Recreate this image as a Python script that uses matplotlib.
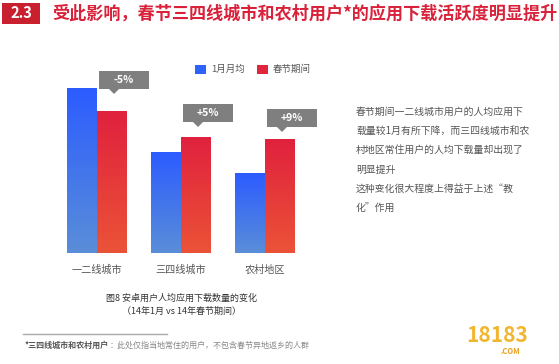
import numpy as np
import matplotlib
matplotlib.use("Agg")
import matplotlib.pyplot as plt
from matplotlib.patches import Rectangle, Polygon
from matplotlib.colors import LinearSegmentedColormap

plt.rcParams['font.family'] = ['Noto Sans CJK SC', 'DejaVu Sans']

# data
categories = ['一二线城市', '三四线城市', '农村地区']
series_names = ['1月月均', '春节期间']
jan_avg = [165, 101, 80]
spring = [142, 116, 114]
changes = ['-5%', '+5%', '+9%']

title_num = '2.3'
title = '受此影响，春节三四线城市和农村用户*的应用下载活跃度明显提升'
caption = ['图8 安卓用户人均应用下载数量的变化', '（14年1月 vs 14年春节期间）']
side_text = [['春节期间一二线城市用户的人均应用下', '载量较1月有所下降，而三四线城市和农',
              '村地区常住用户的人均下载量却出现了', '明显提升'],
             ['这种变化很大程度上得益于上述“教', '化”作用']]
footnote_bold = '*三四线城市和农村用户'
footnote_rest = '：此处仅指当地常住的用户，不包含春节异地返乡的人群'

W, H = 559, 364
fig = plt.figure(figsize=(W / 100, H / 100), dpi=100)
fig.patch.set_facecolor('white')

def fx(px):
    return px / W

def fy(py):
    return 1 - py / H

# title bar
fig.patches.append(Rectangle((fx(2), fy(24)), fx(38), 21 / H, transform=fig.transFigure,
                             facecolor='#C8202F', edgecolor='none'))
fig.text(fx(21), fy(13.5), title_num, color='white', fontsize=10.5, fontweight='bold',
         ha='center', va='center')
tt = fig.text(fx(52), fy(13.5), title, color='#D9213A', fontsize=13, fontweight='bold',
              ha='left', va='center')
# shrink title to fit the width it has in the reference (52px .. 555px)
fig.canvas.draw()
w = tt.get_window_extent().width
tt.set_fontsize(13 * 503 / w)

# bar chart axes: baseline at y=253px, groups every 84px
ax = fig.add_axes([fx(40), fy(253), fx(280), (253 - 50) / H])
ax.axis('off')

x = np.arange(len(categories))
bw = 30 / 84
blue_cmap = LinearSegmentedColormap.from_list('b', ['#5A8ED8', '#2C5CFF'])
red_cmap = LinearSegmentedColormap.from_list('r', ['#EB5337', '#E0213E'])
grad = np.linspace(0, 1, 256).reshape(-1, 1)

def gradient_bars(xs, vals, cmap):
    bars = ax.bar(xs, vals, width=bw, color='none', edgecolor='none')
    for b in bars:
        x0, y0 = b.get_x(), b.get_y()
        im = ax.imshow(grad, cmap=cmap, origin='lower', aspect='auto',
                       extent=[x0, x0 + b.get_width(), y0, y0 + b.get_height()], zorder=2)
        im.set_clip_path(b)
    return bars

gradient_bars(x - bw / 2, jan_avg, blue_cmap)
gradient_bars(x + bw / 2, spring, red_cmap)
ax.set_xlim(-0.679, 2.655)
ax.set_ylim(0, 203)

# callouts
gaps = [22, 15, 12]
box_w = 50 / 84
box_h = 18
for i, (v, lab) in enumerate(zip(spring, changes)):
    cx = x[i] + bw / 2 + 12 / 84
    tip = x[i] + bw / 2 + 2 / 84
    y0 = v + gaps[i]
    pts = [(cx - box_w / 2, y0), (tip - 5 / 84, y0), (tip, y0 - 5), (tip + 5 / 84, y0),
           (cx + box_w / 2, y0), (cx + box_w / 2, y0 + box_h), (cx - box_w / 2, y0 + box_h)]
    ax.add_patch(Polygon(pts, closed=True, facecolor='#7F7F7F', edgecolor='none', zorder=3))
    ax.text(cx, y0 + box_h / 2, lab, color='white', fontsize=7.5, fontweight='bold',
            ha='center', va='center', zorder=4)

for i, c in enumerate(categories):
    ax.text(x[i], -17, c, color='#555555', fontsize=7.3, ha='center', va='center',
            clip_on=False)

# legend
for px, col, name in [(195, '#2F62F8', series_names[0]), (257, '#E0253D', series_names[1])]:
    fig.patches.append(Rectangle((fx(px), fy(74)), fx(11), 9 / H, transform=fig.transFigure,
                                 facecolor=col, edgecolor='none'))
    fig.text(fx(px + 16), fy(69.5), name, color='#555555', fontsize=6.8, ha='left', va='center')

# caption
fig.text(fx(182), fy(298), caption[0], color='#333333', fontsize=6.5, ha='center', va='center')
fig.text(fx(182), fy(311), caption[1], color='#333333', fontsize=6.5, ha='center', va='center')

# side text
yy = 112
for para in side_text:
    for line in para:
        fig.text(fx(356), fy(yy), line, color='#555555', fontsize=7.1, ha='left', va='center')
        yy += 19.3

# footnote
fig.add_artist(plt.Line2D([fx(23), fx(167)], [fy(334), fy(334)], color='#AAAAAA', lw=1))
t = fig.text(fx(25), fy(345), footnote_bold, color='#555555', fontsize=5.8, fontweight='bold',
             ha='left', va='center')
fig.canvas.draw()
bb = t.get_window_extent()
fig.text(bb.x1 / W, fy(345), footnote_rest, color='#888888', fontsize=5.8,
         ha='left', va='center')

# watermark
fig.text(fx(497), fy(336), '18183', color='#F2B62E', fontsize=15, fontweight='bold',
         ha='center', va='center', fontstyle='italic')
fig.text(fx(510), fy(352), '.COM', color='#E8A020', fontsize=5.5, fontweight='bold',
         ha='center', va='center')

fig.savefig('out.png', dpi=100)
